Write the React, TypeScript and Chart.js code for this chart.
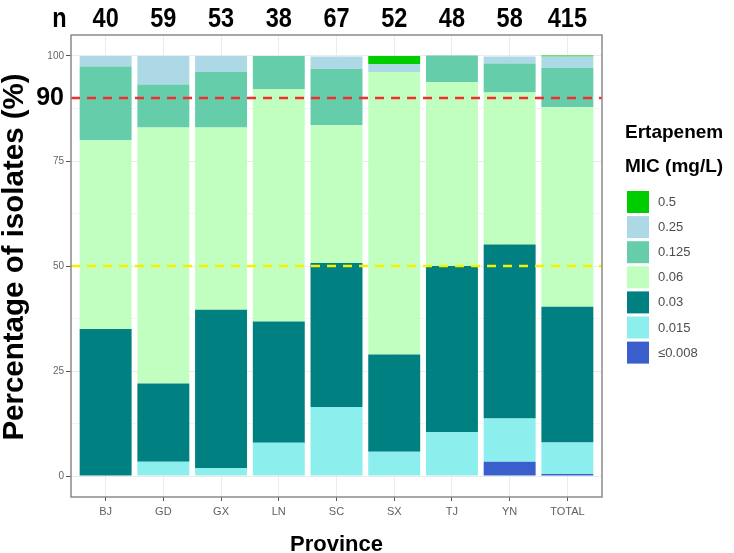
import React, { useEffect, useRef } from 'react';
import { Chart, registerables } from 'chart.js';

Chart.register(...registerables);

// ---- data ----
const provinces = ['BJ', 'GD', 'GX', 'LN', 'SC', 'SX', 'TJ', 'YN', 'TOTAL'];
const sampleSizes = ['40', '59', '53', '38', '67', '52', '48', '58', '415'];

const micLabels = ['≤0.008', '0.015', '0.03', '0.06', '0.125', '0.25', '0.5'];
const micColors = ['#3A5FCD', '#8DEEEE', '#008080', '#C1FFC1', '#66CDAA', '#ADD8E6', '#00CD00'];

// percentage of isolates per MIC value, in province order
const pctLe008 = [0, 0, 0, 0, 0, 0, 0, 3.4, 0.5];
const pct015 = [0, 3.4, 1.9, 7.9, 16.4, 5.8, 10.4, 10.3, 7.5];
const pct03 = [35.0, 18.6, 37.7, 28.9, 34.3, 23.1, 39.6, 41.4, 32.3];
const pct06 = [45.0, 61.0, 43.4, 55.3, 32.8, 67.3, 43.8, 36.2, 47.5];
const pct125 = [17.5, 10.2, 13.2, 7.9, 13.4, 0, 6.3, 6.9, 9.4];
const pct25 = [2.5, 6.8, 3.8, 0, 3.0, 1.9, 0, 1.7, 2.7];
const pct5 = [0, 0, 0, 0, 0, 1.9, 0, 0, 0.2];
const micSeries = [pctLe008, pct015, pct03, pct06, pct125, pct25, pct5];

const yTickValues = [0, 12.5, 25, 37.5, 50, 62.5, 75, 87.5, 90, 100];
const yMajorTicks = [0, 25, 50, 75, 100];
const yHighlightTick = 90;
const refLineValues = [90, 50];
const refLineColors = ['#F03030', '#F5F000'];

const yTitle = 'Percentage of isolates (%)';
const xTitle = 'Province';
const legendTitle = ['Ertapenem', 'MIC (mg/L)'];

const FONT = "'Liberation Sans', Arial, sans-serif";

const overlayPlugin = {
  id: 'overlay',
  afterDatasetsDraw(chart: any) {
    const { ctx, chartArea: a, scales } = chart;
    const y = scales.y;
    ctx.save();
    ctx.lineWidth = 2.5;
    ctx.setLineDash([9, 7]);
    refLineValues.forEach((v, i) => {
      const py = y.getPixelForValue(v);
      ctx.strokeStyle = refLineColors[i];
      ctx.beginPath();
      ctx.moveTo(a.left, py);
      ctx.lineTo(a.right, py);
      ctx.stroke();
    });
    ctx.restore();
  },
  afterDraw(chart: any) {
    const { ctx, chartArea: a, scales } = chart;
    const x = scales.x;
    ctx.save();
    // panel border
    ctx.strokeStyle = '#8A8A8A';
    ctx.lineWidth = 1.5;
    ctx.setLineDash([]);
    ctx.strokeRect(a.left, a.top, a.right - a.left, a.bottom - a.top);

    ctx.fillStyle = '#000';
    ctx.textAlign = 'center';
    ctx.textBaseline = 'middle';

    // axis titles
    ctx.font = `bold 29.5px ${FONT}`;
    ctx.save();
    ctx.translate(15, 257);
    ctx.rotate(-Math.PI / 2);
    ctx.fillText(yTitle, 0, 0);
    ctx.restore();

    ctx.font = `bold 22px ${FONT}`;
    ctx.fillText(xTitle, (a.left + a.right) / 2, 545);

    // n row (condensed bold text)
    ctx.font = `bold 28px ${FONT}`;
    const drawNarrow = (t: string, cx: number, cy: number) => {
      ctx.save();
      ctx.translate(cx, cy);
      ctx.scale(0.84, 1);
      ctx.fillText(t, 0, 0);
      ctx.restore();
    };
    drawNarrow('n', 59.5, 19);
    sampleSizes.forEach((s, i) => {
      drawNarrow(s, x.getPixelForValue(i), 19);
    });

    // legend
    const lx = 625;
    ctx.textAlign = 'left';
    ctx.font = `bold 19px ${FONT}`;
    ctx.fillText(legendTitle[0], lx, 133);
    ctx.fillText(legendTitle[1], lx, 167);
    ctx.font = `13px ${FONT}`;
    const order = micLabels.map((_, i) => i).reverse();
    order.forEach((di, k) => {
      const top = 191 + k * 25.1;
      ctx.fillStyle = micColors[di];
      ctx.fillRect(627, top, 22, 22);
      ctx.fillStyle = '#4D4D4D';
      ctx.fillText(micLabels[di], 658, top + 11.5);
    });
    ctx.restore();
  },
};

export default function App() {
  const ref = useRef<HTMLCanvasElement>(null);

  useEffect(() => {
    if (!ref.current) return;
    const chart = new Chart(ref.current, {
      type: 'bar',
      data: {
        datasets: micSeries.map((series, di) => ({
          label: micLabels[di],
          data: series.map((v, i) => ({ x: i, y: v })),
          backgroundColor: micColors[di],
          borderWidth: 0,
          categoryPercentage: 1,
          barPercentage: 0.9,
        })),
      },
      options: {
        animation: false,
        responsive: false,
        layout: { padding: { top: 35, right: 132, bottom: 0, left: 0 } },
        plugins: {
          legend: { display: false },
          tooltip: { enabled: false },
        },
        scales: {
          x: {
            type: 'linear',
            stacked: true,
            offset: false,
            min: -0.6,
            max: provinces.length - 1 + 0.6,
            afterBuildTicks: (scale: any) => {
              scale.ticks = provinces.map((_, i) => ({ value: i }));
            },
            afterFit: (scale: any) => {
              scale.height = 56;
            },
            ticks: {
              autoSkip: false,
              maxRotation: 0,
              padding: 4,
              color: '#606060',
              font: { family: FONT, size: 11 },
              callback: (v: any) => provinces[v] ?? '',
            },
            grid: {
              offset: false,
              color: '#EBEBEB',
              tickColor: '#555',
              tickLength: 4,
              lineWidth: 1,
            },
            border: { display: false },
            title: { display: false },
          },
          y: {
            type: 'linear',
            stacked: true,
            min: -5,
            max: 105,
            afterBuildTicks: (scale: any) => {
              scale.ticks = yTickValues.map((v) => ({ value: v }));
            },
            afterFit: (scale: any) => {
              scale.width = 71;
            },
            ticks: {
              autoSkip: false,
              padding: 2,
              callback: (v: any) =>
                yMajorTicks.includes(v) || v === yHighlightTick ? String(v) : '',
              color: (c: any) => (c.tick && c.tick.value === yHighlightTick ? '#000' : '#666'),
              font: (c: any) =>
                c.tick && c.tick.value === yHighlightTick
                  ? { family: FONT, size: 25, weight: 'bold' }
                  : { family: FONT, size: 10 },
            },
            grid: {
              color: (c: any) => {
                const v = c.tick ? c.tick.value : 0;
                if (v === yHighlightTick) return 'rgba(0,0,0,0)';
                return yMajorTicks.includes(v) ? '#EBEBEB' : '#F4F4F4';
              },
              tickColor: (c: any) => {
                const v = c.tick ? c.tick.value : 0;
                return yMajorTicks.includes(v) ? '#555' : 'rgba(0,0,0,0)';
              },
              tickLength: 5,
              lineWidth: 1,
            },
            border: { display: false },
            title: { display: false },
          },
        },
      },
      plugins: [overlayPlugin],
    } as any);
    return () => chart.destroy();
  }, []);

  return (
    <div style={{ position: 'fixed', left: 0, top: 0, width: 734, height: 553, background: '#fff' }}>
      <canvas ref={ref} width={734} height={553} style={{ display: 'block' }} />
    </div>
  );
}
